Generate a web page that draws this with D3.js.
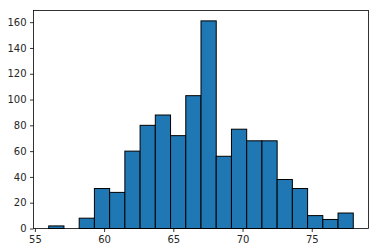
<!DOCTYPE html>
<html>
<head>
<meta charset="utf-8">
<script src="https://cdn.jsdelivr.net/npm/d3@7"></script>
<style>
  html, body { margin: 0; padding: 0; background: #fff; }
  svg { display: block; }
  .tick text { font-family: "DejaVu Sans", sans-serif; font-size: 10px; fill: #262626; }
</style>
</head>
<body>
<script>
// histogram counts, 20 bins
const binEdges = [56.0, 57.1, 58.2, 59.3, 60.4, 61.5, 62.6, 63.7, 64.8, 65.9, 67.0,
                  68.1, 69.2, 70.3, 71.4, 72.5, 73.6, 74.7, 75.8, 76.9, 78.0];
const counts = [2, 0, 8, 31, 28, 60, 80, 88, 72, 103, 161, 56, 77, 68, 68, 38, 31, 10, 7, 12];
const xTicks = [55, 60, 65, 70, 75];
const yTicks = [0, 20, 40, 60, 80, 100, 120, 140, 160];

var width = 378,
	height = 252;
var margin = { top: 10.5, right: 9.5, bottom: 23.5, left: 33.5 };

var svg = d3.select("body").append("svg").attr("width", width).attr("height", height);

var x = d3.scaleLinear().domain([54.9, 79.1]).range([margin.left, width - margin.right]);
var y = d3.scaleLinear().domain([0, 169.05]).range([height - margin.bottom, margin.top]);

var bins = counts.map((c, i) => ({ x0: binEdges[i], x1: binEdges[i + 1], count: c }));

svg.append("g")
	.selectAll("rect")
	.data(bins.filter((d) => d.count > 0))
	.enter()
	.append("rect")
	.attr("x", (d) => x(d.x0))
	.attr("y", (d) => y(d.count))
	.attr("width", (d) => x(d.x1) - x(d.x0))
	.attr("height", (d) => y(0) - y(d.count))
	.style("fill", "#1f77b4")
	.style("stroke", "#000")
	.style("stroke-width", 1);

// axes
var xAxis = svg.append("g")
	.attr("transform", "translate(0," + (height - margin.bottom) + ")")
	.call(d3.axisBottom(x).tickValues(xTicks).tickSize(3.5).tickPadding(3.5).tickFormat(d3.format("d")));

var yAxis = svg.append("g")
	.attr("transform", "translate(" + margin.left + ",0)")
	.call(d3.axisLeft(y).tickValues(yTicks).tickSize(3.5).tickPadding(3.5).tickFormat(d3.format("d")));

[xAxis, yAxis].forEach((g) => {
	g.select(".domain").remove();
	g.selectAll(".tick line").attr("stroke", "#000").attr("stroke-width", 0.8);
});

// frame
svg.append("rect")
	.attr("x", margin.left)
	.attr("y", margin.top)
	.attr("width", width - margin.left - margin.right)
	.attr("height", height - margin.top - margin.bottom)
	.style("fill", "none")
	.style("stroke", "#000")
	.style("stroke-width", 0.8);
</script>
</body>
</html>
